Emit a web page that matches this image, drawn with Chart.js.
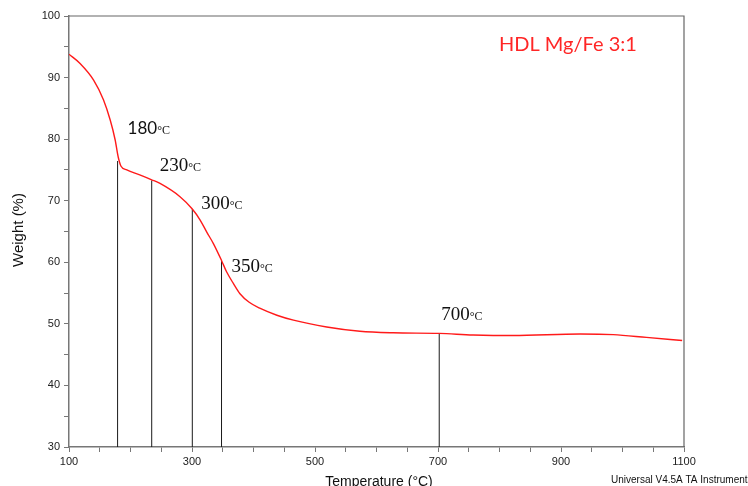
<!DOCTYPE html>
<html>
<head>
<meta charset="utf-8">
<script src="https://cdn.jsdelivr.net/npm/chart.js@4"></script>
<style>
    body { margin: 0; background: #fff; }
    #caixa { width: 748px; height: 486px; position: relative; }
</style>
</head>
<body>
<div id="caixa"><canvas id="grafico"></canvas></div>
<script>
// curva TGA (temperatura em °C, massa em %)
const temperaturas = [100, 118, 140, 156, 167, 175, 180, 184.6, 194, 215, 234.5, 248, 280.5, 300.5, 313, 324, 335, 348, 356, 367, 378, 393, 411, 438, 465, 519, 573, 627, 702, 757, 822, 931, 985, 1039, 1097];
const pesos = [93.8, 92.3, 89.6, 86.4, 83.1, 79.9, 77.1, 75.6, 75.0, 74.2, 73.4, 72.8, 70.65, 68.65, 66.9, 64.9, 63.0, 60.3, 58.5, 56.6, 54.9, 53.5, 52.5, 51.4, 50.6, 49.5, 48.8, 48.55, 48.45, 48.2, 48.1, 48.35, 48.25, 47.8, 47.3];

// linhas verticais marcando as etapas
const marcasTemp = [179, 234.5, 300.5, 348, 702];
const marcasTopo = [76.45, 73.3, 68.65, 60.2, 48.45];
const marcasRotulo = ['180', '230', '300', '350', '700'];

// ticks dos eixos
const ticksX = [100, 300, 500, 700, 900, 1100];
const ticksY = [30, 40, 50, 60, 70, 80, 90, 100];

// deslocamento do rotulo em pixels a partir do topo de cada linha
const rotulos = [
    { dx: 10, dy: -27, fonte: 'Lato', tam: 17 },
    { dx: 8, dy: -9, fonte: 'Liberation Serif', tam: 19 },
    { dx: 9, dy: 0, fonte: 'Liberation Serif', tam: 19 },
    { dx: 10, dy: 11, fonte: 'Liberation Serif', tam: 19 },
    { dx: 2, dy: -13, fonte: 'Liberation Serif', tam: 19 },
];

const textos = {
    plugin: 'textos',
    afterDraw(chart) {
        const { ctx, chartArea: area, scales } = chart;
        ctx.save();

        ctx.strokeStyle = '#666';
        ctx.lineWidth = 1.2;
        ctx.beginPath();
        ctx.moveTo(area.left, area.top);
        ctx.lineTo(area.right, area.top);
        ctx.lineTo(area.right, area.bottom);
        ctx.stroke();

        ctx.fillStyle = '#111';
        ctx.textBaseline = 'alphabetic';
        marcasRotulo.forEach((texto, i) => {
            const r = rotulos[i];
            const x = scales.x.getPixelForValue(marcasTemp[i]) + r.dx;
            const y = scales.y.getPixelForValue(marcasTopo[i]) + r.dy;
            ctx.font = `${r.tam}px "${r.fonte}"`;
            ctx.textAlign = 'left';
            ctx.fillText(texto, x, y);
            const w = ctx.measureText(texto).width;
            ctx.font = '12px "Liberation Serif"';
            ctx.fillText('°C', x + w, y);
        });

        ctx.fillStyle = '#ff2626';
        ctx.font = '20px Lato';
        ctx.textAlign = 'left';
        ctx.fillText('HDL Mg/Fe 3:1', 499, 51);

        ctx.fillStyle = '#111';
        ctx.font = '14px "Liberation Sans"';
        ctx.textAlign = 'center';
        ctx.fillText('Temperature (°C)', 379, 486);

        ctx.font = '10px "Liberation Sans"';
        ctx.textAlign = 'left';
        ctx.fillText('Universal V4.5A TA Instruments', 611, 483);

        ctx.translate(23, 230);
        ctx.rotate(-Math.PI / 2);
        ctx.font = '15px "Liberation Sans"';
        ctx.textAlign = 'center';
        ctx.fillText('Weight (%)', 0, 0);

        ctx.restore();
    },
};

const linhasVerticais = marcasTemp.map((t, i) => ({
    data: [{ x: t, y: 30 }, { x: t, y: marcasTopo[i] }],
    borderColor: '#1a1a1a',
    borderWidth: 1,
    pointRadius: 0,
    tension: 0,
}));

const eixo = {
    border: { display: true, color: '#777', width: 1.5 },
    grid: { display: true, drawOnChartArea: false, drawTicks: true, tickLength: 5, color: '#777' },
};

new Chart(document.getElementById('grafico'), {
    type: 'line',
    data: {
        datasets: [
            {
                data: temperaturas.map((t, i) => ({ x: t, y: pesos[i] })),
                borderColor: '#ff1a1a',
                borderWidth: 1.4,
                pointRadius: 0,
                cubicInterpolationMode: 'monotone',
            },
            ...linhasVerticais,
        ],
    },
    options: {
        responsive: true,
        maintainAspectRatio: false,
        animation: false,
        layout: { padding: { top: 16, right: 64, left: 0, bottom: 0 } },
        plugins: { legend: { display: false }, tooltip: { enabled: false } },
        scales: {
            x: {
                ...eixo,
                type: 'linear',
                min: 100,
                max: 1100,
                afterFit: scale => { scale.height = 39; },
                ticks: {
                    stepSize: 50,
                    autoSkip: false,
                    maxRotation: 0,
                    padding: 3,
                    color: '#222',
                    font: { family: 'Liberation Sans', size: 11 },
                    callback: v => ticksX.includes(v) ? String(v) : '',
                },
            },
            y: {
                ...eixo,
                min: 30,
                max: 100,
                afterFit: scale => { scale.width = 69; },
                ticks: {
                    stepSize: 5,
                    autoSkip: false,
                    padding: 4,
                    color: '#222',
                    font: { family: 'Liberation Sans', size: 11 },
                    callback: v => ticksY.includes(v) ? String(v) : '',
                },
            },
        },
    },
    plugins: [textos],
});
</script>
</body>
</html>
